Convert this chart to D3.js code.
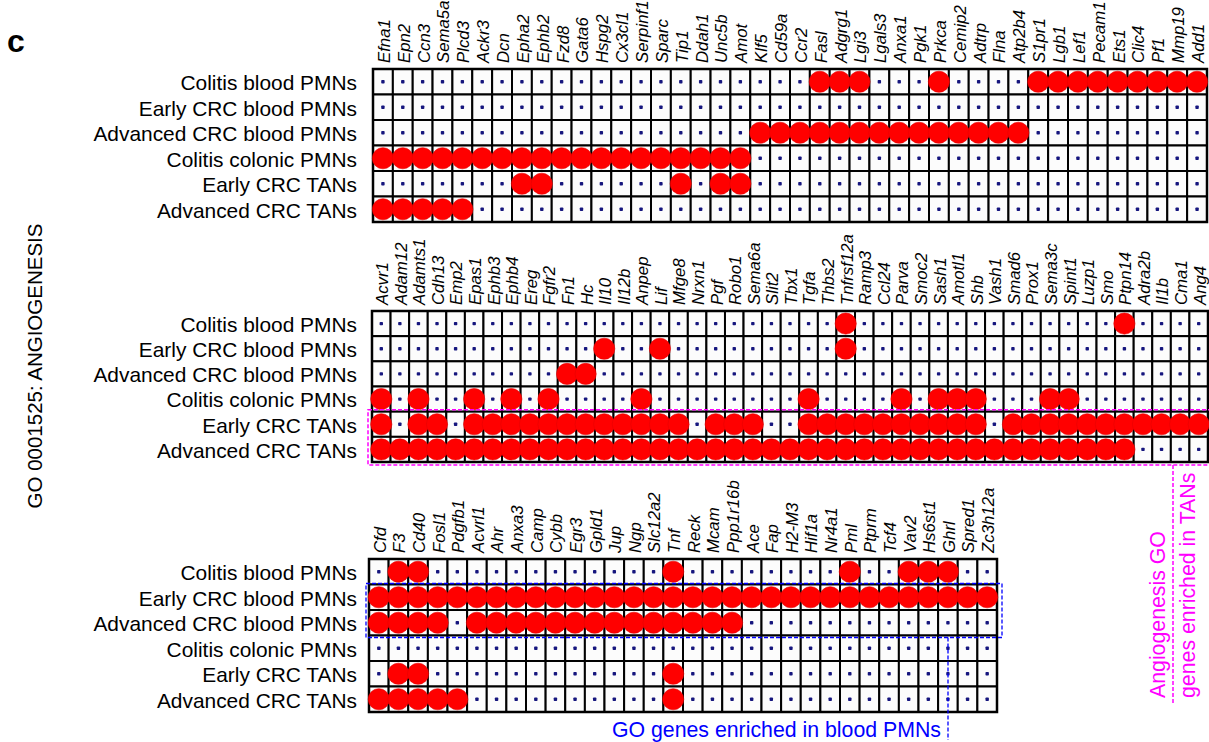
<!DOCTYPE html>
<html>
<head>
<meta charset="utf-8">
<script src="https://cdn.jsdelivr.net/npm/d3@7"></script>
<style>
  body { margin: 0; background: #fff; }
  text { font-family: Arial, "Liberation Sans", sans-serif; }
</style>
</head>
<body>
<svg id="chart" width="1209" height="742"></svg>
<script>
// row groups (same for all three panels)
var rowLabels = ["Colitis blood PMNs", "Early CRC blood PMNs", "Advanced CRC blood PMNs",
  "Colitis colonic PMNs", "Early CRC TANs", "Advanced CRC TANs"];

// panel 1 genes + enriched genes per row
var genes1 = ["Efna1", "Epn2", "Ccn3", "Sema5a", "Plcd3", "Ackr3", "Dcn", "Epha2", "Ephb2", "Fzd8",
  "Gata6", "Hspg2", "Cx3cl1", "Serpinf1", "Sparc", "Tip1", "Ddah1", "Unc5b", "Amot", "Klf5",
  "Cd59a", "Ccr2", "Fasl", "Adgrg1", "Lgi3", "Lgals3", "Anxa1", "Pgk1", "Prkca", "Cemip2",
  "Adtrp", "Flna", "Atp2b4", "S1pr1", "Lgb1", "Lef1", "Pecam1", "Ets1", "Clic4", "Pf1",
  "Mmp19", "Add1"];
var hits1 = [
  ["Fasl", "Adgrg1", "Lgi3", "Prkca", "S1pr1", "Lgb1", "Lef1", "Pecam1", "Ets1", "Clic4", "Pf1", "Mmp19", "Add1"],
  [],
  ["Klf5", "Cd59a", "Ccr2", "Fasl", "Adgrg1", "Lgi3", "Lgals3", "Anxa1", "Pgk1", "Prkca", "Cemip2", "Adtrp", "Flna", "Atp2b4"],
  ["Efna1", "Epn2", "Ccn3", "Sema5a", "Plcd3", "Ackr3", "Dcn", "Epha2", "Ephb2", "Fzd8", "Gata6",
    "Hspg2", "Cx3cl1", "Serpinf1", "Sparc", "Tip1", "Ddah1", "Unc5b", "Amot"],
  ["Epha2", "Ephb2", "Tip1", "Unc5b", "Amot"],
  ["Efna1", "Epn2", "Ccn3", "Sema5a", "Plcd3"]
];

// panel 2
var genes2 = ["Acvr1", "Adam12", "Adamts1", "Cdh13", "Emp2", "Epas1", "Ephb3", "Ephb4", "Ereg", "Fgfr2",
  "Fn1", "Hc", "Il10", "Il12b", "Anpep", "Lif", "Mfge8", "Nrxn1", "Pgf", "Robo1",
  "Sema6a", "Slit2", "Tbx1", "Tgfa", "Thbs2", "Tnfrsf12a", "Ramp3", "Ccl24", "Parva", "Smoc2",
  "Sash1", "Amotl1", "Shb", "Vash1", "Smad6", "Prox1", "Sema3c", "Spint1", "Luzp1", "Smo",
  "Ptpn14", "Adra2b", "Il1b", "Cma1", "Ang4"];
var hits2 = [
  ["Tnfrsf12a", "Ptpn14"],
  ["Il10", "Lif", "Tnfrsf12a"],
  ["Fn1", "Hc"],
  ["Acvr1", "Adamts1", "Epas1", "Ephb4", "Fgfr2", "Anpep", "Tgfa", "Parva", "Sash1", "Amotl1", "Shb", "Sema3c", "Spint1"],
  ["Acvr1", "Adamts1", "Cdh13", "Epas1", "Ephb3", "Ephb4", "Ereg", "Fgfr2", "Fn1", "Hc", "Il10", "Il12b",
    "Anpep", "Lif", "Mfge8", "Pgf", "Robo1", "Sema6a", "Tgfa", "Thbs2", "Tnfrsf12a", "Ramp3", "Ccl24",
    "Parva", "Smoc2", "Sash1", "Amotl1", "Shb", "Smad6", "Prox1", "Sema3c", "Spint1", "Luzp1", "Smo",
    "Ptpn14", "Adra2b", "Il1b", "Cma1", "Ang4"],
  ["Acvr1", "Adam12", "Adamts1", "Cdh13", "Emp2", "Epas1", "Ephb3", "Ephb4", "Ereg", "Fgfr2", "Fn1", "Hc",
    "Il10", "Il12b", "Anpep", "Lif", "Mfge8", "Nrxn1", "Pgf", "Robo1", "Sema6a", "Slit2", "Tbx1", "Tgfa",
    "Thbs2", "Tnfrsf12a", "Ramp3", "Ccl24", "Parva", "Smoc2", "Sash1", "Amotl1", "Shb", "Vash1", "Smad6",
    "Prox1", "Sema3c", "Spint1", "Luzp1", "Smo", "Ptpn14"]
];

// panel 3
var genes3 = ["Cfd", "F3", "Cd40", "Fosl1", "Pdgfb1", "Acvrl1", "Ahr", "Anxa3", "Camp", "Cybb",
  "Egr3", "Gpld1", "Jup", "Ngp", "Slc12a2", "Tnf", "Reck", "Mcam", "Ppp1r16b", "Ace",
  "Fap", "H2-M3", "Hif1a", "Nr4a1", "Pml", "Ptprm", "Tcf4", "Vav2", "Hs6st1", "Ghrl",
  "Spred1", "Zc3h12a"];
var hits3 = [
  ["F3", "Cd40", "Tnf", "Pml", "Vav2", "Hs6st1", "Ghrl"],
  genes3.slice(),
  ["Cfd", "F3", "Cd40", "Fosl1", "Acvrl1", "Ahr", "Anxa3", "Camp", "Cybb", "Egr3", "Gpld1", "Jup",
    "Ngp", "Slc12a2", "Tnf", "Reck", "Mcam", "Ppp1r16b"],
  [],
  ["F3", "Cd40", "Tnf"],
  ["Cfd", "F3", "Cd40", "Fosl1", "Pdgfb1", "Tnf"]
];

var svg = d3.select("#chart");

// "c" panel letter
svg.append("text")
  .attr("x", 7).attr("y", 52)
  .style("font-size", "32px").style("font-weight", "bold")
  .text("c");

svg.append("text")
  .attr("transform", "translate(42,366) rotate(-90)")
  .attr("text-anchor", "middle")
  .style("font-size", "20.5px")
  .text("GO 0001525: ANGIOGENESIS");

var panels = [
  {genes: genes1, hits: hits1, x0: 373, x1: 1207, top: 69, bottom: 222},
  {genes: genes2, hits: hits2, x0: 372, x1: 1208, top: 311, bottom: 462},
  {genes: genes3, hits: hits3, x0: 369, x1: 997, top: 559, bottom: 712}
];

function drawPanel(p) {
  var x = d3.scaleBand().domain(p.genes).range([p.x0, p.x1]);
  var y = d3.scaleBand().domain(d3.range(rowLabels.length)).range([p.top, p.bottom]);
  var g = svg.append("g");

  var cells = [];
  rowLabels.forEach(function (r, i) {
    p.genes.forEach(function (gene) {
      cells.push({row: i, gene: gene, hit: p.hits[i].indexOf(gene) >= 0});
    });
  });

  // row labels
  g.selectAll(".rowlab")
    .data(rowLabels)
    .enter().append("text")
    .attr("class", "rowlab")
    .attr("x", 357)
    .attr("y", function (d, i) { return y(i) + y.bandwidth() / 2 + 1; })
    .attr("dy", "0.35em")
    .attr("text-anchor", "end")
    .style("font-size", "20.9px")
    .text(function (d) { return d; });

  // gene labels
  g.selectAll(".genelab")
    .data(p.genes)
    .enter().append("text")
    .attr("class", "genelab")
    .attr("transform", function (d) {
      return "translate(" + (x(d) + x.bandwidth() / 2 + 1) + "," + (p.top - 6) + ") rotate(-90)";
    })
    .attr("dy", "0.35em")
    .style("font-size", "16.8px")
    .style("font-style", "italic")
    .text(function (d) { return d; });

  // boxes
  g.selectAll(".cell")
    .data(cells)
    .enter().append("rect")
    .attr("class", "cell")
    .attr("x", function (d) { return x(d.gene); })
    .attr("y", function (d) { return y(d.row); })
    .attr("width", x.bandwidth())
    .attr("height", y.bandwidth())
    .attr("fill", "#fcfcfc")
    .attr("stroke", "#000")
    .attr("stroke-width", 2);

  g.append("rect")
    .attr("x", p.x0).attr("y", p.top)
    .attr("width", p.x1 - p.x0).attr("height", p.bottom - p.top)
    .attr("fill", "none").attr("stroke", "#000").attr("stroke-width", 2.5);

  // small dots for non-enriched
  g.selectAll(".dot")
    .data(cells.filter(function (d) { return !d.hit; }))
    .enter().append("rect")
    .attr("class", "dot")
    .attr("x", function (d) { return x(d.gene) + x.bandwidth() / 2 - 1.7; })
    .attr("y", function (d) { return y(d.row) + y.bandwidth() / 2 - 1.7; })
    .attr("width", 3.4).attr("height", 3.4)
    .attr("rx", 0.8)
    .attr("fill", "#16167e");

  // big red circles for enriched
  g.selectAll(".hit")
    .data(cells.filter(function (d) { return d.hit; }))
    .enter().append("circle")
    .attr("class", "hit")
    .attr("cx", function (d) { return x(d.gene) + x.bandwidth() / 2; })
    .attr("cy", function (d) { return y(d.row) + y.bandwidth() / 2; })
    .attr("r", 10.6)
    .attr("fill", "#ff0000")
    .attr("stroke", "#e60000")
    .attr("stroke-width", 0.6);

  return {x: x, y: y};
}

var scales = panels.map(drawPanel);

// magenta annotation: TANs in panel 2
var s2 = scales[1];
var magTop = s2.y(4) - 2, magBot = s2.y(5) + s2.y.bandwidth() + 3;
svg.append("rect")
  .attr("x", 368).attr("y", magTop)
  .attr("width", 860).attr("height", magBot - magTop)
  .attr("fill", "none").attr("stroke", "#ff00ff")
  .attr("stroke-width", 1.5).attr("stroke-dasharray", "4,2");
svg.append("line")
  .attr("x1", 1173).attr("x2", 1173)
  .attr("y1", magBot).attr("y2", 705)
  .attr("stroke", "#ff00ff").attr("stroke-width", 1.5).attr("stroke-dasharray", "4,2");
svg.append("text")
  .attr("transform", "translate(1165,698) rotate(-90)")
  .attr("fill", "#ff00ff").style("font-size", "21.3px")
  .text("Angiogenesis GO");
svg.append("text")
  .attr("transform", "translate(1195,698) rotate(-90)")
  .attr("fill", "#ff00ff").style("font-size", "21.3px")
  .text("genes enriched in TANs");

// blue annotation: blood PMNs in panel 3
var s3 = scales[2];
var bTop = s3.y(1) - 1, bBot = s3.y(2) + s3.y.bandwidth() + 2;
svg.append("rect")
  .attr("x", 366).attr("y", bTop)
  .attr("width", 636).attr("height", bBot - bTop)
  .attr("fill", "none").attr("stroke", "#0000ff")
  .attr("stroke-width", 1.3).attr("stroke-dasharray", "4,2");
svg.append("line")
  .attr("x1", 948).attr("x2", 948)
  .attr("y1", bBot).attr("y2", 740)
  .attr("stroke", "#0000ff").attr("stroke-width", 1.3).attr("stroke-dasharray", "4,2");
svg.append("text")
  .attr("x", 941).attr("y", 737)
  .attr("text-anchor", "end")
  .attr("fill", "#0000ff").style("font-size", "21.3px")
  .text("GO genes enriched in blood PMNs");
</script>
</body>
</html>
